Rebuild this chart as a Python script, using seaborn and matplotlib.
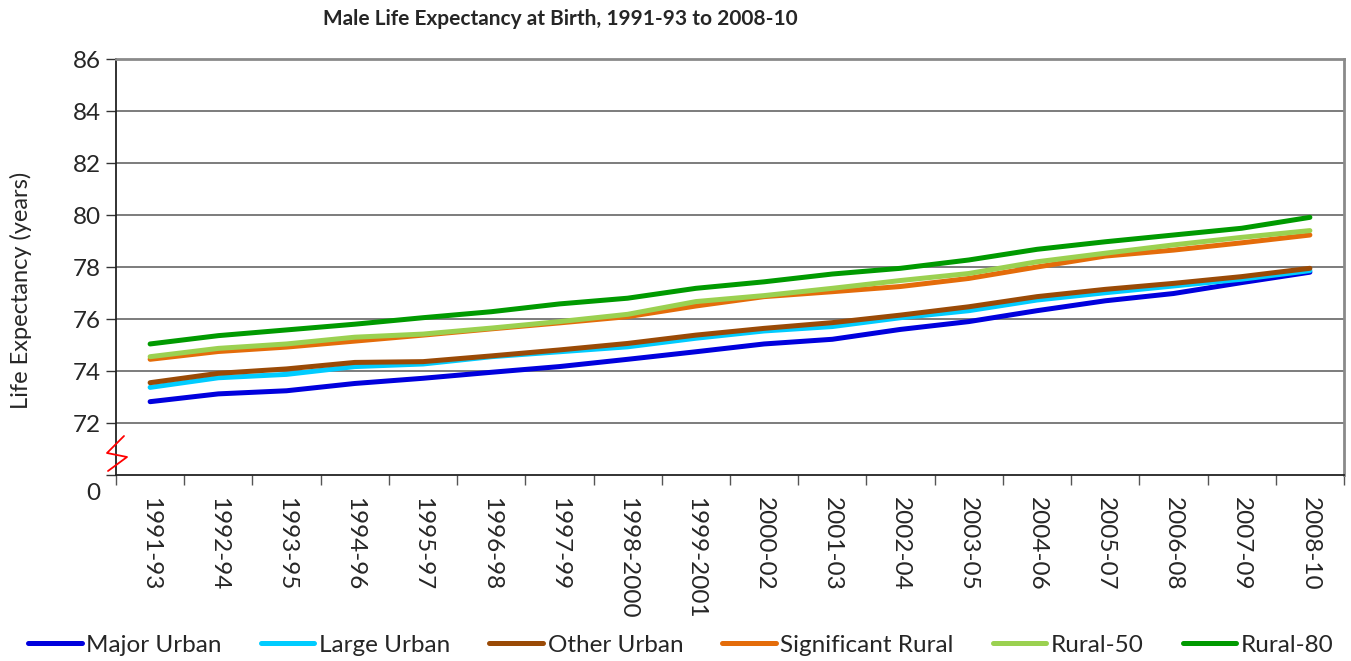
import pandas as pd
import seaborn as sns
import matplotlib.pyplot as plt
import matplotlib.transforms as mtransforms
from matplotlib.ticker import FixedLocator

periods = ["1991-93", "1992-94", "1993-95", "1994-96", "1995-97", "1996-98",
           "1997-99", "1998-2000", "1999-2001", "2000-02", "2001-03", "2002-04",
           "2003-05", "2004-06", "2005-07", "2006-08", "2007-09", "2008-10"]

major_urban = [72.82, 73.12, 73.24, 73.52, 73.72, 73.95, 74.17, 74.45, 74.74,
               75.04, 75.22, 75.60, 75.90, 76.32, 76.70, 76.98, 77.40, 77.80]
large_urban = [73.37, 73.74, 73.87, 74.17, 74.27, 74.55, 74.74, 74.93, 75.26,
               75.54, 75.71, 76.05, 76.32, 76.73, 77.01, 77.27, 77.53, 77.86]
other_urban = [73.55, 73.91, 74.08, 74.33, 74.36, 74.58, 74.81, 75.06, 75.38,
               75.64, 75.86, 76.15, 76.47, 76.86, 77.14, 77.37, 77.63, 77.95]
significant_rural = [74.45, 74.75, 74.92, 75.15, 75.38, 75.62, 75.85, 76.09, 76.50,
                     76.86, 77.05, 77.25, 77.56, 78.00, 78.42, 78.65, 78.93, 79.23]
rural_50 = [74.55, 74.87, 75.04, 75.30, 75.42, 75.65, 75.90, 76.18, 76.67,
            76.90, 77.18, 77.48, 77.75, 78.20, 78.53, 78.85, 79.14, 79.40]
rural_80 = [75.04, 75.36, 75.58, 75.80, 76.05, 76.28, 76.58, 76.80, 77.18,
            77.43, 77.73, 77.95, 78.27, 78.68, 78.97, 79.23, 79.49, 79.91]

series_names = ["Major Urban", "Large Urban", "Other Urban",
                "Significant Rural", "Rural-50", "Rural-80"]
colors = ["#0000DD", "#00CCFF", "#9A4A06", "#E46C0A", "#9BD150", "#009A00"]

y_ticks = [70, 72, 74, 76, 78, 80, 82, 84, 86]
y_ticklabels = ["0", "72", "74", "76", "78", "80", "82", "84", "86"]

df = pd.DataFrame({"period": periods,
                   "Major Urban": major_urban,
                   "Large Urban": large_urban,
                   "Other Urban": other_urban,
                   "Significant Rural": significant_rural,
                   "Rural-50": rural_50,
                   "Rural-80": rural_80})
df["pos"] = range(len(periods))
long_df = df.melt(id_vars=["period", "pos"], var_name="area", value_name="years")

sns.set_style("white")
plt.rcParams['font.family'] = ['Lato', 'DejaVu Sans']

fig = plt.figure(figsize=(13.51, 6.61), dpi=100)
ax = fig.add_axes([116 / 1351, 1 - 475 / 661, 1228 / 1351, 416 / 661])

sns.lineplot(data=long_df, x="pos", y="years", hue="area", hue_order=series_names,
             palette=colors, linewidth=3.6, sort=False, ax=ax,
             solid_capstyle="round")

ax.set_xlim(-0.5, len(periods) - 0.5)
ax.set_ylim(70, 86)

# gridlines at y ticks above the bottom
for y in y_ticks[1:]:
    ax.axhline(y, color="#666666", linewidth=1.2, zorder=0)

ax.set_yticks(y_ticks)
ax.set_yticklabels(y_ticklabels, fontsize=17.5)
ax.tick_params(axis="y", direction="out", length=7, width=1, color="#333333", pad=4, left=True)
# the "0" label sits a little below the axis line, like in the original
zero_lbl = ax.get_yticklabels()[0]
zero_lbl.set_transform(zero_lbl.get_transform() +
                       mtransforms.ScaledTranslation(0, -17 / 100, fig.dpi_scale_trans))

ax.set_xticks(range(len(periods)))
ax.set_xticklabels(periods, rotation=-90, fontsize=17.5, va="top", ha="center")
ax.tick_params(axis="x", which="major", length=0, pad=16)
ax.xaxis.set_minor_locator(FixedLocator([i - 0.5 for i in range(len(periods) + 1)]))
ax.tick_params(axis="x", which="minor", direction="out", length=7, width=1,
               color="#555555", bottom=True)

ax.set_xlabel("")
ax.set_ylabel("Life Expectancy (years)", fontsize=17)
ax.yaxis.set_label_coords(-0.068, 0.445)

for side in ["left", "bottom"]:
    ax.spines[side].set_color("#222222")
    ax.spines[side].set_linewidth(1.3)
for side in ["top", "right"]:
    ax.spines[side].set_visible(True)
    ax.spines[side].set_color("#8a8a8a")
    ax.spines[side].set_linewidth(2)

# axis break mark
bx = [(124 - 116) / 1228, (107 - 116) / 1228, (127 - 116) / 1228, (108 - 116) / 1228]
by = [(475 - 436) / 416, (475 - 453) / 416, (475 - 457) / 416, (475 - 471) / 416]
ax.plot(bx, by, color="red", linewidth=1.3, transform=ax.transAxes, clip_on=False, zorder=5)

fig.text(560 / 1351, 1 - 19 / 661, "Male Life Expectancy at Birth, 1991-93 to 2008-10",
         ha="center", va="center", fontsize=15, fontweight="bold")

handles, labels = ax.get_legend_handles_labels()
ax.legend_.remove()
fig.legend(handles, labels, loc="center", bbox_to_anchor=(681 / 1351, 1 - 645 / 661),
           ncol=6, frameon=False, fontsize=17.5, handlelength=2.2, handletextpad=0.2,
           columnspacing=1.6)

fig.savefig("out.png", dpi=100, facecolor="white")
